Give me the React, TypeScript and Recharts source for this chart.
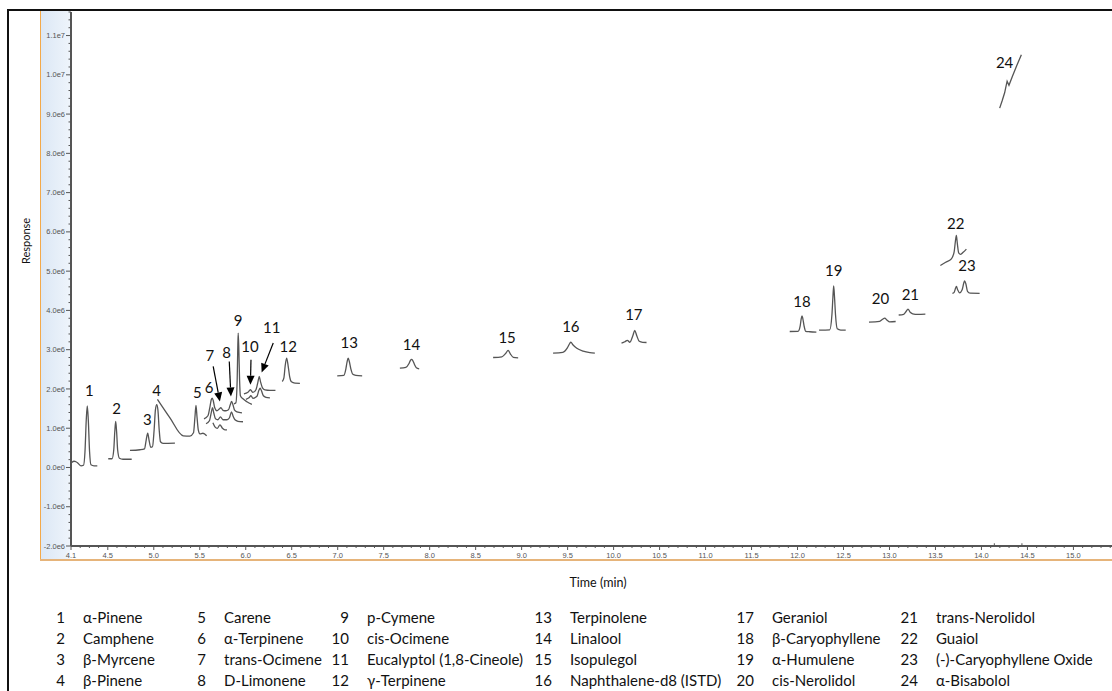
import React from 'react';
import { LineChart, Line, XAxis, YAxis, ReferenceDot, ReferenceLine } from 'recharts';

type Pt = [number, number];

// retention time (min), response (x 1e6 counts)
const trace01: Pt[] = [[4.108, 0.127], [4.133, 0.158], [4.154, 0.145], [4.176, 0.107], [4.209, 0.043], [4.236, 0.056], [4.252, 0.4], [4.266, 1.215], [4.277, 1.571], [4.288, 1.215], [4.302, 0.4], [4.317, 0.069], [4.35, 0.043], [4.386, 0.043]];
const trace02: Pt[] = [[4.505, 0.222], [4.546, 0.222], [4.565, 0.451], [4.576, 0.909], [4.586, 1.171], [4.596, 0.909], [4.607, 0.451], [4.627, 0.234], [4.665, 0.209], [4.76, 0.209]];
const trace03: Pt[] = [[4.741, 0.433], [4.85, 0.451], [4.899, 0.476], [4.918, 0.705], [4.934, 0.876], [4.948, 0.705], [4.967, 0.514], [4.986, 0.527], [5.004, 0.96], [5.018, 1.466], [5.032, 1.597], [5.045, 1.466], [5.059, 0.96], [5.073, 0.654], [5.1, 0.616], [5.23, 0.621]];
const trace05: Pt[] = [[5.04, 1.737], [5.176, 1.266], [5.321, 0.807], [5.393, 0.8], [5.432, 0.884], [5.448, 1.291], [5.459, 1.579], [5.47, 1.291], [5.484, 0.96], [5.502, 0.858], [5.535, 0.871], [5.575, 0.807]];
const trace06a: Pt[] = [[5.546, 1.24], [5.589, 1.317], [5.611, 1.546], [5.625, 1.724], [5.636, 1.767], [5.647, 1.699], [5.663, 1.521], [5.687, 1.444], [5.709, 1.482], [5.73, 1.521], [5.752, 1.457], [5.785, 1.444], [5.812, 1.469], [5.832, 1.597], [5.847, 1.681], [5.861, 1.597], [5.877, 1.469], [5.904, 1.418], [5.959, 1.393]];
const trace06b: Pt[] = [[5.568, 1.113], [5.605, 1.189], [5.627, 1.418], [5.639, 1.521], [5.652, 1.393], [5.671, 1.24], [5.698, 1.215], [5.725, 1.291], [5.752, 1.215], [5.796, 1.215], [5.823, 1.266], [5.845, 1.418], [5.861, 1.317], [5.883, 1.215], [5.916, 1.176], [5.97, 1.164]];
const trace06c: Pt[] = [[5.643, 1.138], [5.665, 1.036], [5.692, 0.998], [5.72, 1.087], [5.747, 0.998], [5.774, 0.96], [5.796, 0.96]];
const trace09: Pt[] = [[5.872, 1.622], [5.893, 1.648], [5.907, 2.233], [5.913, 2.998], [5.918, 3.422], [5.925, 2.998], [5.933, 2.233], [5.942, 1.826], [5.97, 1.749], [6.013, 1.673], [6.067, 1.609]];
const trace10a: Pt[] = [[5.98, 1.877], [6.024, 1.915], [6.051, 1.979], [6.078, 1.915], [6.111, 1.979], [6.133, 2.182], [6.147, 2.317], [6.161, 2.182], [6.182, 2.029], [6.209, 1.979], [6.263, 1.966], [6.323, 1.966]];
const trace10b: Pt[] = [[6.002, 1.737], [6.035, 1.775], [6.057, 1.826], [6.078, 1.762], [6.122, 1.813], [6.143, 1.966], [6.157, 2.017], [6.171, 1.953], [6.192, 1.826], [6.22, 1.788], [6.263, 1.775]];
const trace12: Pt[] = [[6.397, 2.19], [6.415, 2.284], [6.429, 2.59], [6.445, 2.786], [6.461, 2.59], [6.478, 2.31], [6.497, 2.182], [6.535, 2.149], [6.589, 2.144]];
const trace13: Pt[] = [[6.995, 2.335], [7.067, 2.348], [7.089, 2.513], [7.102, 2.692], [7.114, 2.786], [7.127, 2.692], [7.143, 2.513], [7.165, 2.373], [7.198, 2.348], [7.266, 2.335]];
const trace14: Pt[] = [[7.676, 2.531], [7.741, 2.552], [7.774, 2.641], [7.791, 2.73], [7.803, 2.755], [7.815, 2.73], [7.834, 2.628], [7.855, 2.539], [7.886, 2.513]];
const trace15: Pt[] = [[8.69, 2.801], [8.785, 2.819], [8.828, 2.908], [8.853, 2.984], [8.877, 2.895], [8.91, 2.806], [8.962, 2.793]];
const trace16: Pt[] = [[9.342, 2.913], [9.448, 2.934], [9.497, 3.048], [9.524, 3.163], [9.535, 3.193], [9.557, 3.125], [9.6, 3.035], [9.669, 2.964], [9.742, 2.926], [9.796, 2.913]];
const trace17: Pt[] = [[10.086, 3.168], [10.122, 3.201], [10.149, 3.239], [10.177, 3.188], [10.209, 3.354], [10.23, 3.489], [10.252, 3.354], [10.279, 3.214], [10.317, 3.188], [10.358, 3.183]];
const trace18: Pt[] = [[11.915, 3.463], [12.005, 3.468], [12.029, 3.608], [12.04, 3.787], [12.049, 3.863], [12.058, 3.787], [12.071, 3.608], [12.089, 3.468], [12.133, 3.456], [12.205, 3.448]];
const trace19: Pt[] = [[12.234, 3.499], [12.35, 3.506], [12.374, 3.888], [12.385, 4.347], [12.393, 4.627], [12.402, 4.347], [12.413, 3.888], [12.432, 3.532], [12.47, 3.499], [12.524, 3.499]];
const trace20: Pt[] = [[12.777, 3.703], [12.893, 3.723], [12.926, 3.774], [12.948, 3.804], [12.975, 3.748], [13.002, 3.71], [13.067, 3.718]];
const trace21: Pt[] = [[13.1, 3.883], [13.154, 3.901], [13.182, 3.978], [13.201, 4.034], [13.225, 3.952], [13.252, 3.914], [13.307, 3.901], [13.39, 3.906]];
const trace22: Pt[] = [[13.553, 5.144], [13.611, 5.225], [13.673, 5.314], [13.703, 5.493], [13.716, 5.748], [13.727, 5.908], [13.738, 5.696], [13.752, 5.467], [13.774, 5.429], [13.801, 5.48], [13.836, 5.561]];
const trace23: Pt[] = [[13.684, 4.436], [13.703, 4.461], [13.72, 4.576], [13.728, 4.609], [13.741, 4.525], [13.763, 4.449], [13.79, 4.525], [13.807, 4.691], [13.817, 4.754], [13.83, 4.679], [13.848, 4.487], [13.877, 4.441], [13.98, 4.436]];
const trace24: Pt[] = [[14.198, 9.152], [14.225, 9.338], [14.252, 9.542], [14.268, 9.72], [14.279, 9.834], [14.299, 9.733], [14.339, 9.975], [14.383, 10.23], [14.434, 10.51]];

const traces: { pts: Pt[]; curve: 'monotone' | 'linear' }[] = [
  { pts: trace01, curve: 'monotone' },
  { pts: trace02, curve: 'monotone' },
  { pts: trace03, curve: 'monotone' },
  { pts: trace05, curve: 'monotone' },
  { pts: trace06a, curve: 'monotone' },
  { pts: trace06b, curve: 'monotone' },
  { pts: trace06c, curve: 'monotone' },
  { pts: trace09, curve: 'monotone' },
  { pts: trace10a, curve: 'monotone' },
  { pts: trace10b, curve: 'monotone' },
  { pts: trace12, curve: 'monotone' },
  { pts: trace13, curve: 'monotone' },
  { pts: trace14, curve: 'monotone' },
  { pts: trace15, curve: 'monotone' },
  { pts: trace16, curve: 'monotone' },
  { pts: trace17, curve: 'monotone' },
  { pts: trace18, curve: 'monotone' },
  { pts: trace19, curve: 'monotone' },
  { pts: trace20, curve: 'monotone' },
  { pts: trace21, curve: 'monotone' },
  { pts: trace22, curve: 'monotone' },
  { pts: trace23, curve: 'monotone' },
  { pts: trace24, curve: 'linear' },
];

// peak number positions, 1..24
const peakLabels: Pt[] = [
  [4.299, 1.953], [4.597, 1.495], [4.929, 1.215], [5.032, 1.953], [5.473, 1.889], [5.603, 2.03],
  [5.611, 2.827], [5.792, 2.928], [5.918, 3.718], [6.046, 3.074], [6.282, 3.55], [6.462, 3.074],
  [7.125, 3.168], [7.803, 3.125], [8.842, 3.295], [9.535, 3.59], [10.22, 3.888], [12.049, 4.202],
  [12.393, 5.009], [12.901, 4.296], [13.227, 4.38], [13.72, 6.206], [13.843, 5.136], [14.252, 10.3],
];

// arrows pointing at peaks 7, 8, 10, 11
const arrows: [Pt, Pt][] = [
  [[5.646, 2.572], [5.719, 1.681]],
  [[5.821, 2.699], [5.839, 1.808]],
  [[6.057, 2.743], [6.051, 2.106]],
  [[6.299, 3.168], [6.173, 2.419]],
];

const compounds = [
  'α-Pinene', 'Camphene', 'β-Myrcene', 'β-Pinene',
  'Carene', 'α-Terpinene', 'trans-Ocimene', 'D-Limonene',
  'p-Cymene', 'cis-Ocimene', 'Eucalyptol (1,8-Cineole)', 'γ-Terpinene',
  'Terpinolene', 'Linalool', 'Isopulegol', 'Naphthalene-d8 (ISTD)',
  'Geraniol', 'β-Caryophyllene', 'α-Humulene', 'cis-Nerolidol',
  'trans-Nerolidol', 'Guaiol', '(-)-Caryophyllene Oxide', 'α-Bisabolol',
];

const xMajor = [4.1, 4.5, 5.0, 5.5, 6.0, 6.5, 7.0, 7.5, 8.0, 8.5, 9.0, 9.5, 10.0, 10.5, 11.0, 11.5, 12.0, 12.5, 13.0, 13.5, 14.0, 14.5, 15.0, 15.5];
const xTickLabels = ['4.1', '4.5', '5.0', '5.5', '6.0', '6.5', '7.0', '7.5', '8.0', '8.5', '9.0', '9.5', '10.0', '10.5', '11.0', '11.5', '12.0', '12.5', '13.0', '13.5', '14.0', '14.5', '15.0', '15.5'];
const yMajor = [-2, -1, 0, 1, 2, 3, 4, 5, 6, 7, 8, 9, 10, 11];
const yTickLabels = ['-2.0e6', '-1.0e6', '0.0e0', '1.0e6', '2.0e6', '3.0e6', '4.0e6', '5.0e6', '6.0e6', '7.0e6', '8.0e6', '9.0e6', '1.0e7', '1.1e7'];

const xTicks = Array.from({ length: 118 }, (_, i) => Math.round((4.1 + i * 0.1) * 10) / 10);
const yTicks = Array.from({ length: 69 }, (_, i) => Math.round((-2 + i * 0.2) * 10) / 10);

const TICK_FONT = '"Liberation Sans", Arial, sans-serif';
const TEXT_FONT = 'Lato, "Open Sans", sans-serif';

const XTick = (props: any) => {
  const { x, y, payload } = props;
  const idx = xMajor.findIndex((m) => Math.abs(m - payload.value) < 1e-6);
  const major = idx >= 0;
  return (
    <g>
      <line x1={x} x2={x} y1={y} y2={y + (major ? 4 : 2)} stroke="#555" strokeWidth={1} />
      {major && (
        <text x={x} y={y + 12} textAnchor="middle" fontSize={7.5} fill="#555" fontFamily={TICK_FONT}>
          {xTickLabels[idx]}
        </text>
      )}
    </g>
  );
};

const YTick = (props: any) => {
  const { x, y, payload } = props;
  const idx = yMajor.findIndex((m) => Math.abs(m - payload.value) < 1e-6);
  const major = idx >= 0;
  return (
    <g>
      <line x1={x} x2={x - (major ? 5 : 2.5)} y1={y} y2={y} stroke="#555" strokeWidth={1} />
      {major && (
        <text x={x - 6} y={y + 2.6} textAnchor="end" fontSize={7.5} fill="#555" fontFamily={TICK_FONT}>
          {yTickLabels[idx]}
        </text>
      )}
    </g>
  );
};

const ArrowShape = (props: any) => {
  const { x1, y1, x2, y2 } = props;
  const a = Math.atan2(y2 - y1, x2 - x1);
  const len = 9;
  const half = 4;
  const bx = x2 - len * Math.cos(a);
  const by = y2 - len * Math.sin(a);
  const px = -Math.sin(a) * half;
  const py = Math.cos(a) * half;
  return (
    <g>
      <line x1={x1} y1={y1} x2={bx} y2={by} stroke="#000" strokeWidth={1.2} />
      <polygon points={`${x2},${y2} ${bx + px},${by + py} ${bx - px},${by - py}`} fill="#000" />
    </g>
  );
};

const PeakLabel = (text: string) => (props: any) => (
  <text x={props.cx} y={props.cy + 5} textAnchor="middle" fontSize={15} fill="#111" fontFamily={TEXT_FONT}>
    {text}
  </text>
);

const legendNameX = [83, 224, 367, 570, 772, 936];
const legendRowY = [617, 638, 659, 680];

export default function App() {
  return (
    <div style={{ position: 'fixed', left: 0, top: 0, width: 1112, height: 691, overflow: 'hidden', background: '#fff' }}>
      <div style={{ position: 'absolute', left: 7, top: 9, width: 1200, height: 800, borderLeft: '2px solid #111', borderTop: '2px solid #111' }} />
      <div style={{ position: 'absolute', left: 40, top: 11, width: 30, height: 549, background: 'linear-gradient(to right, #dbe7f5, #eef4fb)' }} />
      <div style={{ position: 'absolute', left: 40, top: 11, width: 1, height: 549, background: '#f3a94a' }} />
      <div style={{ position: 'absolute', left: 40, top: 559, width: 1100, height: 2, background: '#e6b47a' }} />

      <div style={{ position: 'absolute', left: 0, top: 0 }}>
        <LineChart width={1160} height={600} margin={{ top: 12, right: 13, bottom: 34, left: 0 }}>
          <XAxis
            type="number"
            dataKey="t"
            domain={[4.1, 15.8]}
            allowDataOverflow
            ticks={xTicks}
            interval={0}
            tickSize={0}
            tickMargin={0}
            tickLine={false}
            tick={XTick}
            height={20}
            axisLine={{ stroke: '#555', strokeWidth: 2 }}
          />
          <YAxis
            type="number"
            dataKey="v"
            domain={[-2, 11.6]}
            allowDataOverflow
            ticks={yTicks}
            interval={0}
            tickSize={0}
            tickMargin={0}
            tickLine={false}
            tick={YTick}
            width={71}
            axisLine={{ stroke: '#555', strokeWidth: 2 }}
          />
          {traces.map((tr, i) => (
            <Line
              key={i}
              data={tr.pts.map(([t, v]) => ({ t, v }))}
              dataKey="v"
              type={tr.curve}
              stroke="#555"
              strokeWidth={1.3}
              dot={false}
              activeDot={false}
              isAnimationActive={false}
            />
          ))}
          <ReferenceLine segment={[{ x: 14.14, y: -2 }, { x: 14.14, y: -1.93 }]} stroke="#555" />
          <ReferenceLine segment={[{ x: 14.44, y: -2 }, { x: 14.44, y: -1.93 }]} stroke="#555" />
          {arrows.map(([from, to], i) => (
            <ReferenceLine key={`a${i}`} segment={[{ x: from[0], y: from[1] }, { x: to[0], y: to[1] }]} shape={ArrowShape} />
          ))}
          {peakLabels.map(([t, v], i) => (
            <ReferenceDot key={`p${i}`} x={t} y={v} r={0} shape={PeakLabel(String(i + 1))} />
          ))}
        </LineChart>
      </div>

      <div style={{ position: 'absolute', left: 25, top: 241, transform: 'translate(-50%, -50%) rotate(-90deg)', fontFamily: TEXT_FONT, fontSize: 11, color: '#111', whiteSpace: 'nowrap' }}>
        Response
      </div>
      <div style={{ position: 'absolute', left: 598, top: 582, transform: 'translate(-50%, -50%)', fontFamily: TEXT_FONT, fontSize: 12.5, color: '#111', whiteSpace: 'nowrap' }}>
        Time (min)
      </div>

      {compounds.map((name, i) => {
        const col = Math.floor(i / 4);
        const row = i % 4;
        const nx = legendNameX[col];
        const y = legendRowY[row];
        return (
          <React.Fragment key={name}>
            <div style={{ position: 'absolute', left: nx - 60, width: 42, top: y, transform: 'translateY(-50%)', textAlign: 'right', fontFamily: TEXT_FONT, fontSize: 15, color: '#111' }}>
              {i + 1}
            </div>
            <div style={{ position: 'absolute', left: nx, top: y, transform: 'translateY(-50%)', fontFamily: TEXT_FONT, fontSize: 15, color: '#111', whiteSpace: 'nowrap' }}>
              {name}
            </div>
          </React.Fragment>
        );
      })}
    </div>
  );
}
